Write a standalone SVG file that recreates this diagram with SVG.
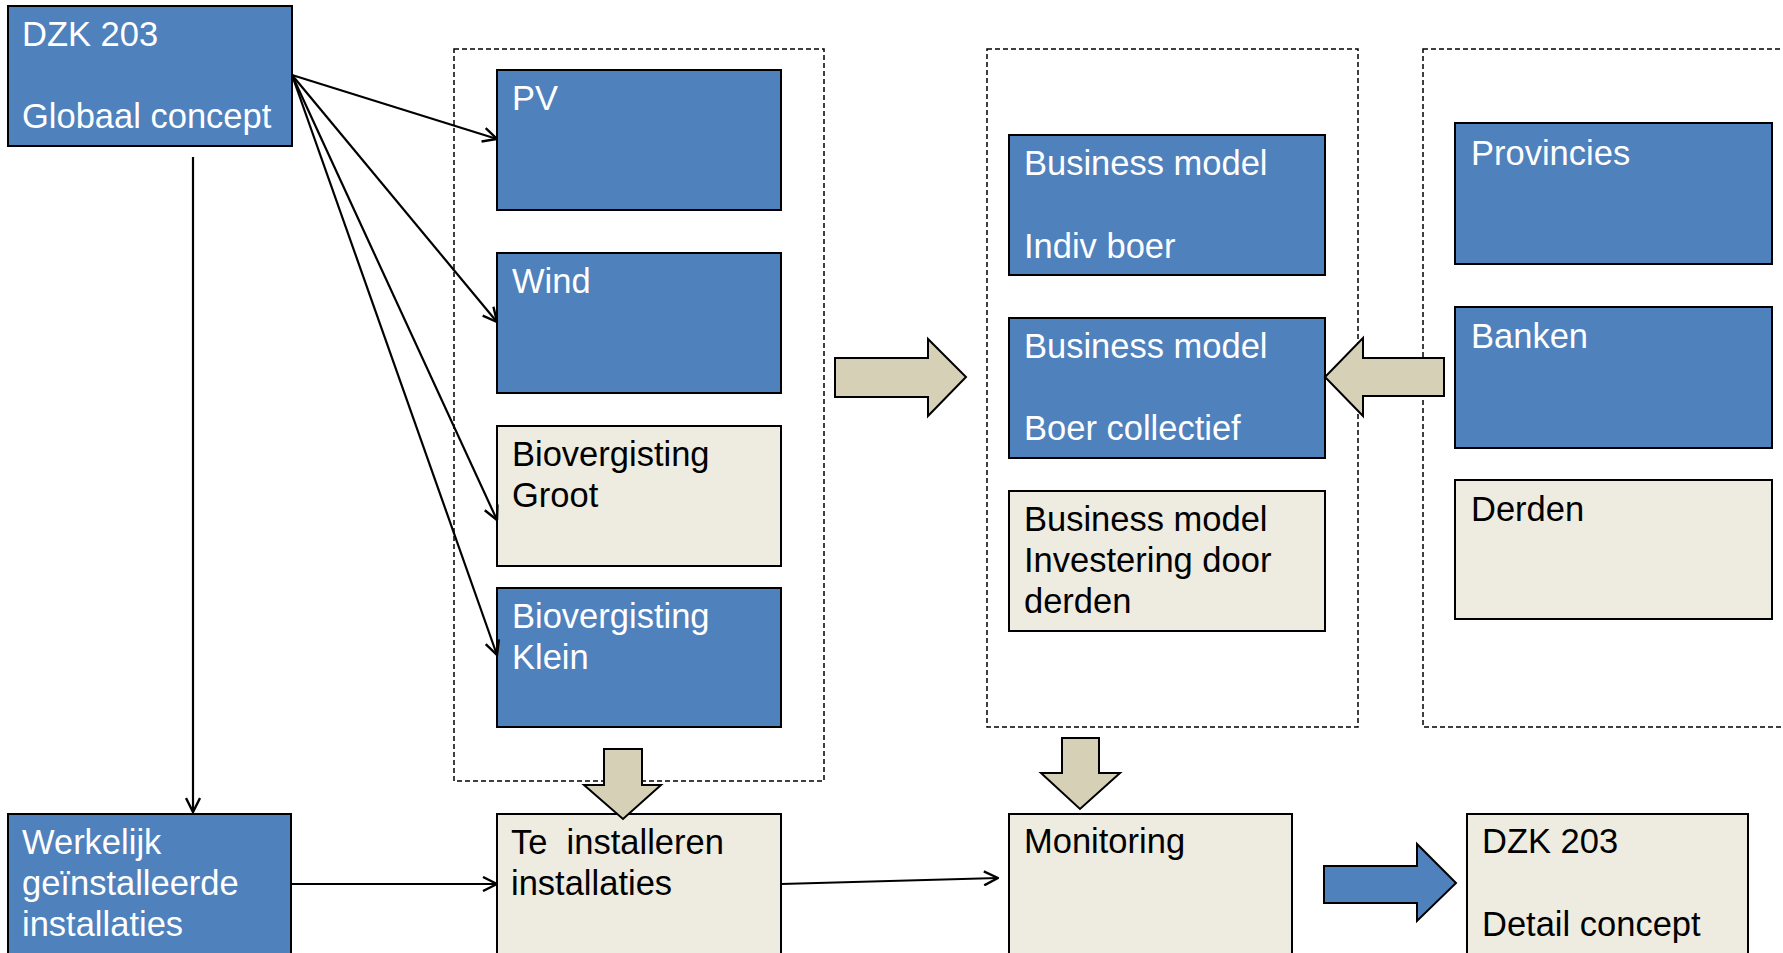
<svg xmlns="http://www.w3.org/2000/svg" width="1783" height="953" viewBox="0 0 1783 953">
<defs>
<style>
.blue{fill:#4F81BD;stroke:#000;stroke-width:2}
.beige{fill:#EEECE1;stroke:#000;stroke-width:2}
.tan{fill:#D5D0B6;stroke:#000;stroke-width:2}
.dash{fill:none;stroke:#000;stroke-width:1.5;stroke-dasharray:5,3}
.w{fill:#fff;font-family:"Liberation Sans",Arial,sans-serif;font-size:34.5px}
.k{fill:#000;font-family:"Liberation Sans",Arial,sans-serif;font-size:34.5px}
.ln{fill:none;stroke:#000;stroke-width:2.2}
</style>
<marker id="ah" viewBox="0 0 16 16" refX="15" refY="8" markerWidth="16" markerHeight="16" markerUnits="userSpaceOnUse" orient="auto">
<path d="M1,1 L15,8 L1,15" fill="none" stroke="#000" stroke-width="2.4"/>
</marker>
</defs>
<rect width="1783" height="953" fill="#fff"/>
<g id="groups">
<rect class="dash" x="454" y="49" width="370" height="732"/>
<rect class="dash" x="987" y="49" width="371" height="678"/>
<rect class="dash" x="1423" y="49" width="380" height="678"/>
</g>
<g id="n-dzk-global"><rect class="blue" x="8" y="6" width="284" height="140"/><text class="w" x="22" y="46">DZK 203</text><text class="w" x="22" y="128">Globaal concept</text></g>
<g id="n-pv"><rect class="blue" x="497" y="70" width="284" height="140"/><text class="w" x="512" y="110">PV</text></g>
<g id="n-wind"><rect class="blue" x="497" y="253" width="284" height="140"/><text class="w" x="512" y="293">Wind</text></g>
<g id="n-groot"><rect class="beige" x="497" y="426" width="284" height="140"/><text class="k" x="512" y="466">Biovergisting</text><text class="k" x="512" y="507">Groot</text></g>
<g id="n-klein"><rect class="blue" x="497" y="588" width="284" height="139"/><text class="w" x="512" y="628">Biovergisting</text><text class="w" x="512" y="669">Klein</text></g>
<g id="n-bm-indiv"><rect class="blue" x="1009" y="135" width="316" height="140"/><text class="w" x="1024" y="175">Business model</text><text class="w" x="1024" y="258">Indiv boer</text></g>
<g id="n-bm-coll"><rect class="blue" x="1009" y="318" width="316" height="140"/><text class="w" x="1024" y="358">Business model</text><text class="w" x="1024" y="440">Boer collectief</text></g>
<g id="n-bm-derden"><rect class="beige" x="1009" y="491" width="316" height="140"/><text class="k" x="1024" y="531">Business model</text><text class="k" x="1024" y="572">Investering door</text><text class="k" x="1024" y="613">derden</text></g>
<g id="n-prov"><rect class="blue" x="1455" y="123" width="317" height="141"/><text class="w" x="1471" y="165">Provincies</text></g>
<g id="n-banken"><rect class="blue" x="1455" y="307" width="317" height="141"/><text class="w" x="1471" y="348">Banken</text></g>
<g id="n-derden"><rect class="beige" x="1455" y="480" width="317" height="139"/><text class="k" x="1471" y="521">Derden</text></g>
<g id="n-werkelijk"><rect class="blue" x="8" y="814" width="283" height="160"/><text class="w" x="22" y="854">Werkelijk</text><text class="w" x="22" y="895">geïnstalleerde</text><text class="w" x="22" y="936">installaties</text></g>
<g id="n-te-install"><rect class="beige" x="497" y="814" width="284" height="160"/><text class="k" x="511" y="854" xml:space="preserve">Te  installeren</text><text class="k" x="511" y="895">installaties</text></g>
<g id="n-monitoring"><rect class="beige" x="1009" y="814" width="283" height="160"/><text class="k" x="1024" y="853">Monitoring</text></g>
<g id="n-dzk-detail"><rect class="beige" x="1467" y="814" width="281" height="160"/><text class="k" x="1482" y="853">DZK 203</text><text class="k" x="1482" y="936">Detail concept</text></g>
<g id="connectors">
<line class="ln" x1="292" y1="75" x2="497" y2="139" marker-end="url(#ah)"/>
<line class="ln" x1="292" y1="75" x2="497" y2="322" marker-end="url(#ah)"/>
<line class="ln" x1="292" y1="75" x2="497" y2="520" marker-end="url(#ah)"/>
<line class="ln" x1="292" y1="75" x2="497" y2="655" marker-end="url(#ah)"/>
<line class="ln" x1="193" y1="157" x2="193" y2="812" marker-end="url(#ah)"/>
<line class="ln" x1="291" y1="884" x2="497" y2="884" marker-end="url(#ah)"/>
<line class="ln" x1="781" y1="884" x2="998" y2="878" marker-end="url(#ah)"/>
<path class="tan" d="M835,358 L928,358 L928,339 L966,377 L928,416 L928,397 L835,397 Z"/>
<path class="tan" d="M1444,358 L1363,358 L1363,338 L1325,377 L1363,416 L1363,396 L1444,396 Z"/>
<path class="tan" d="M604,749 L642,749 L642,785 L661,785 L623,819 L584,785 L604,785 Z"/>
<path class="tan" d="M1062,738 L1099,738 L1099,773 L1120,773 L1080,809 L1041,773 L1062,773 Z"/>
<path class="blue" d="M1324,866 L1417,866 L1417,844 L1456,883 L1417,921 L1417,903 L1324,903 Z"/>
</g>
</svg>
